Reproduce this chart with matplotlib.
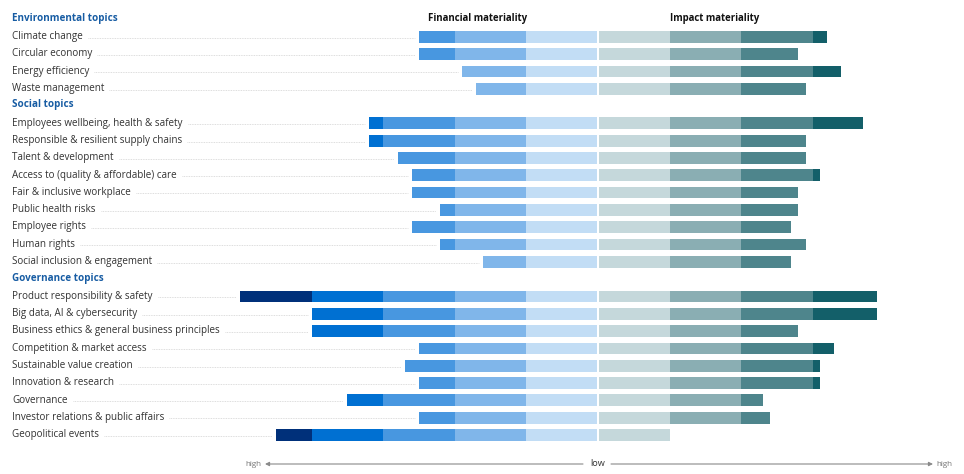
import matplotlib.pyplot as plt
import numpy as np

plt.rcParams['font.family'] = ['Open Sans', 'DejaVu Sans']

groups = ["Environmental topics", "Social topics", "Governance topics"]
topics = [
    ["Climate change", "Circular economy", "Energy efficiency",
     "Waste management"],
    ["Employees wellbeing, health & safety",
     "Responsible & resilient supply chains", "Talent & development",
     "Access to (quality & affordable) care", "Fair & inclusive workplace",
     "Public health risks", "Employee rights", "Human rights",
     "Social inclusion & engagement"],
    ["Product responsibility & safety", "Big data, AI & cybersecurity",
     "Business ethics & general business principles",
     "Competition & market access", "Sustainable value creation",
     "Innovation & research", "Governance",
     "Investor relations & public affairs", "Geopolitical events"],
]
financial = [
    [2.5, 2.5, 1.9, 1.7],
    [3.2, 3.2, 2.8, 2.6, 2.6, 2.2, 2.6, 2.2, 1.6],
    [5.0, 4.0, 4.0, 2.5, 2.7, 2.5, 3.5, 2.5, 4.5],
]
impact = [
    [3.2, 2.8, 3.4, 2.9],
    [3.7, 2.9, 2.9, 3.1, 2.8, 2.8, 2.7, 2.9, 2.7],
    [3.9, 3.9, 2.8, 3.3, 3.1, 3.1, 2.3, 2.4, 1.0],
]

fin_colors = ["#c2ddf5", "#80b6ea", "#4897e0", "#0070d2", "#00307a"]
imp_colors = ["#c5d8db", "#8aaeb3", "#4e858c", "#135f69"]

# pixel mapping: x = 598 + 71.6*u ; y = 19.5 + 17.31*i
px_unit = 71.6
x0 = 598
row_h = 17.31
y0 = 19.5

fig = plt.figure(figsize=(9.64, 4.74), dpi=100)
ax = fig.add_axes([0, 0, 1, 1])
ax.set_xlim(-x0/px_unit, (964-x0)/px_unit)
ax.set_ylim((474-y0)/row_h, -y0/row_h)
ax.axis("off")

gap = 0.012
bar_h = 0.68
base_off = 0.13
label_x = -x0/px_unit + 12/px_unit
renderer = fig.canvas.get_renderer()
inv = ax.transData.inverted()

row = 0
for g, group in enumerate(groups):
    ax.text(label_x, row + 0.08, group, fontsize=7.1,
            fontweight="bold", color="#175ca3", va="baseline", ha="left")
    row += 1
    for name, fv, iv in zip(topics[g], financial[g], impact[g]):
        for k in range(5):
            width = min(fv, k+1) - k
            if width <= 0:
                break
            ax.barh(row, width - (gap if k == 0 else 0),
                    left=-(k + width), height=bar_h,
                    color=fin_colors[k], linewidth=0)
        for k in range(4):
            width = min(iv, k+1) - k
            if width <= 0:
                break
            ax.barh(row, width - (gap if k == 0 else 0),
                    left=k + (gap if k == 0 else 0), height=bar_h,
                    color=imp_colors[k], linewidth=0)
        t = ax.text(label_x, row + base_off, name, fontsize=7.1,
                    color="#333333", va="baseline", ha="left")
        bb = t.get_window_extent(renderer=renderer)
        x_start = inv.transform((bb.x1 + 5, 0))[0]
        x_end = -fv - 4/px_unit
        ax.plot([x_start, x_end], [row + 0.05, row + 0.05],
                linestyle=(0, (1, 1)), color="#d2d2d2", linewidth=0.6)
        row += 1

ax.text(-0.985, 0.08, "Financial materiality", fontsize=6.9,
        fontweight="bold", color="#111111", ha="right", va="baseline")
ax.text(1.005, 0.08, "Impact materiality", fontsize=6.9,
        fontweight="bold", color="#111111", ha="left", va="baseline")

# bottom direction arrows
ya = (464 - y0)/row_h
ax.annotate("", xy=((265-x0)/px_unit, ya), xytext=((583-x0)/px_unit, ya),
            arrowprops=dict(arrowstyle="-|>", color="#8a8a8a", lw=0.8,
                            mutation_scale=6, shrinkA=0, shrinkB=0))
ax.annotate("", xy=((933-x0)/px_unit, ya), xytext=((611-x0)/px_unit, ya),
            arrowprops=dict(arrowstyle="-|>", color="#8a8a8a", lw=0.8,
                            mutation_scale=6, shrinkA=0, shrinkB=0))
ax.text((261-x0)/px_unit, ya, "high", fontsize=5.8, color="#777777",
        ha="right", va="center")
ax.text((936-x0)/px_unit, ya, "high", fontsize=5.8, color="#777777",
        ha="left", va="center")
ax.text(0, ya, "low", fontsize=6.6, color="#333333", ha="center",
        va="center")

plt.savefig("out.png", dpi=100)
